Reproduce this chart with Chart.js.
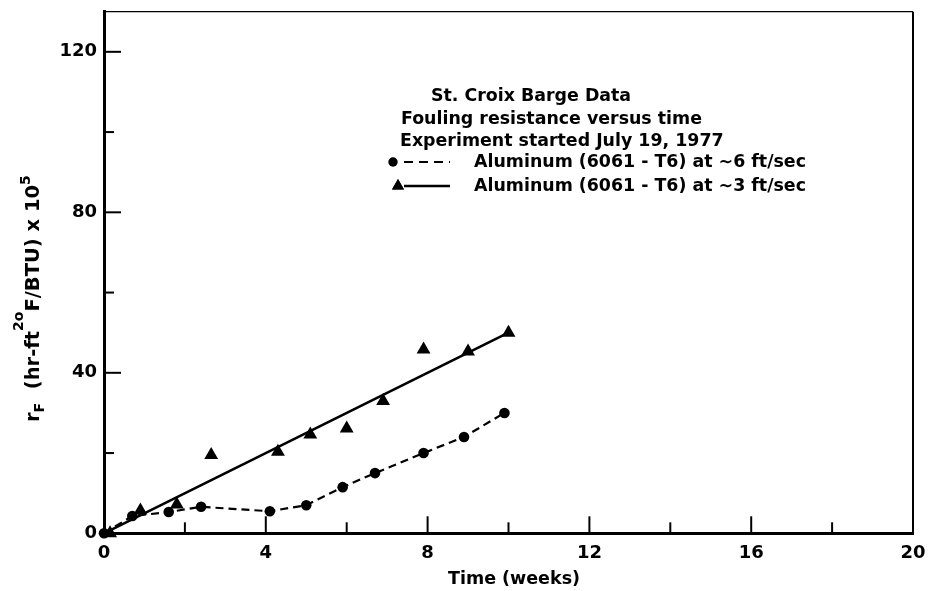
<!DOCTYPE html>
<html>
<head>
<meta charset="utf-8">
<script src="https://cdn.jsdelivr.net/npm/chart.js@4.4.1/dist/chart.umd.min.js"></script>
<style>
  html, body { margin: 0; padding: 0; background: #fff; }
  canvas { display: block; }
</style>
</head>
<body>
<canvas id="chart" width="930" height="591"></canvas>
<script>
// St. Croix barge fouling data, time in weeks, r_F x 10^5
const weeks6 = [0, 0.7, 1.6, 2.4, 4.1, 5.0, 5.9, 6.7, 7.9, 8.9, 9.9];
const rf6 = [0, 4.3, 5.3, 6.6, 5.5, 7.0, 11.5, 15.0, 20.0, 24.0, 30.0];

const weeks3 = [0.15, 0.9, 1.8, 2.65, 4.3, 5.1, 6.0, 6.9, 7.9, 9.0, 10.0];
const rf3 = [0, 5.7, 7.2, 19.5, 20.3, 24.6, 26.1, 33.0, 45.8, 45.3, 50.0];

// straight line drawn through the 3 ft/sec points
const fitWeeks = [0, 10];
const fitRf = [0, 50];

const xTicks = [0, 4, 8, 12, 16, 20];
const yTicks = [0, 40, 80, 120];

const legendLines = [
  'St. Croix Barge Data',
  'Fouling resistance versus time',
  'Experiment started July 19, 1977'
];
const seriesLabels = [
  'Aluminum (6061 - T6) at \u223C6 ft/sec',
  'Aluminum (6061 - T6) at \u223C3 ft/sec'
];

const toPoints = (xs, ys) => xs.map((x, i) => ({ x: x, y: ys[i] }));

Chart.defaults.font.family = "'DejaVu Sans', sans-serif";
Chart.defaults.color = '#000';

const INK = '#000';

// inward tick marks on both axes, plus the thin top/right frame
const frameTicks = {
  id: 'frameTicks',
  afterDraw(chart) {
    const { ctx, chartArea: a, scales } = chart;
    ctx.save();
    ctx.strokeStyle = INK;
    ctx.lineWidth = 2;
    scales.x.ticks.forEach(t => {
      const px = scales.x.getPixelForValue(t.value);
      const len = xTicks.includes(t.value) ? 17 : 11;
      ctx.beginPath();
      ctx.moveTo(px, a.bottom);
      ctx.lineTo(px, a.bottom - len);
      ctx.stroke();
    });
    scales.y.ticks.forEach(t => {
      const py = scales.y.getPixelForValue(t.value);
      const len = yTicks.includes(t.value) ? 17 : 10;
      ctx.beginPath();
      ctx.moveTo(a.left, py);
      ctx.lineTo(a.left + len, py);
      ctx.stroke();
    });
    ctx.lineWidth = 1.3;
    ctx.beginPath();
    ctx.moveTo(a.left, a.top);
    ctx.lineTo(a.right, a.top);
    ctx.stroke();
    ctx.lineWidth = 2;
    ctx.beginPath();
    ctx.moveTo(a.right, a.top);
    ctx.lineTo(a.right, a.bottom);
    ctx.stroke();
    ctx.restore();
  }
};

// axis titles; the y title needs sub- and superscripts
const axisTitles = {
  id: 'axisTitles',
  afterDraw(chart) {
    const { ctx } = chart;
    ctx.save();
    ctx.fillStyle = INK;
    ctx.textBaseline = 'alphabetic';

    ctx.font = "bold 17.5px 'DejaVu Sans'";
    ctx.textAlign = 'center';
    ctx.fillText('Time (weeks)', 514, 584);

    const big = "bold 19.5px 'DejaVu Sans'";
    const small = "bold 14px 'DejaVu Sans'";
    const parts = [
      { t: 'r', f: big, dy: 0 },
      { t: 'F', f: small, dy: 5 },
      { t: '  (hr-ft', f: big, dy: 0 },
      { t: '2', f: small, dy: -16 },
      { t: 'o', f: small, dy: -16 },
      { t: 'F/BTU) x 10', f: big, dy: 0 },
      { t: '5', f: small, dy: -9 }
    ];
    ctx.translate(39, 422);
    ctx.rotate(-Math.PI / 2);
    ctx.textAlign = 'left';
    let x = 0;
    parts.forEach(p => {
      ctx.font = p.f;
      ctx.fillText(p.t, x, p.dy);
      x += ctx.measureText(p.t).width;
    });
    ctx.restore();
  }
};

// legend block drawn with the same styles as the datasets
const legendBlock = {
  id: 'legendBlock',
  afterDraw(chart) {
    const { ctx } = chart;
    const ds = chart.data.datasets;
    ctx.save();
    ctx.fillStyle = INK;
    ctx.strokeStyle = INK;
    ctx.textBaseline = 'middle';
    ctx.textAlign = 'left';
    ctx.font = "bold 17.4px 'DejaVu Sans'";
    ctx.fillText(legendLines[0], 431, 96);
    ctx.fillText(legendLines[1], 401, 119);
    ctx.fillText(legendLines[2], 400, 141);

    // dashed series
    ctx.beginPath();
    ctx.arc(393, 162, ds[0].pointRadius - 0.6, 0, Math.PI * 2);
    ctx.fill();
    ctx.lineWidth = ds[1].borderWidth;
    ctx.setLineDash([9, 6]);
    ctx.beginPath();
    ctx.moveTo(404, 162);
    ctx.lineTo(450, 162);
    ctx.stroke();
    ctx.fillText(seriesLabels[0], 474, 162);

    // solid series
    Chart.helpers.drawPoint(ctx, { pointStyle: 'triangle', radius: ds[2].pointRadius - 1, rotation: 0, borderWidth: 0 }, 398, 186);
    ctx.fill();
    ctx.setLineDash([]);
    ctx.lineWidth = ds[3].borderWidth;
    ctx.beginPath();
    ctx.moveTo(404, 186);
    ctx.lineTo(450, 186);
    ctx.stroke();
    ctx.fillText(seriesLabels[1], 474, 186);
    ctx.restore();
  }
};

new Chart(document.getElementById('chart'), {
  type: 'scatter',
  data: {
    datasets: [
      {
        label: seriesLabels[0],
        data: toPoints(weeks6, rf6),
        pointStyle: 'circle',
        pointRadius: 5.3,
        backgroundColor: INK,
        borderColor: INK,
        borderWidth: 0,
        showLine: false,
        clip: false
      },
      {
        label: seriesLabels[0] + ' line',
        data: toPoints(weeks6, rf6),
        showLine: true,
        pointRadius: 0,
        borderColor: INK,
        borderWidth: 2.2,
        borderDash: [8, 5],
        tension: 0,
        clip: false
      },
      {
        label: seriesLabels[1],
        data: toPoints(weeks3, rf3),
        pointStyle: 'triangle',
        pointRadius: 8,
        backgroundColor: INK,
        borderColor: INK,
        borderWidth: 0,
        showLine: false,
        clip: false
      },
      {
        label: seriesLabels[1] + ' fit',
        data: toPoints(fitWeeks, fitRf),
        showLine: true,
        pointRadius: 0,
        borderColor: INK,
        borderWidth: 2.6,
        clip: false
      }
    ]
  },
  options: {
    responsive: false,
    animation: false,
    events: [],
    layout: { padding: { left: 0, right: 17, top: 11.7, bottom: 0 } },
    plugins: {
      legend: { display: false },
      tooltip: { enabled: false }
    },
    scales: {
      x: {
        type: 'linear',
        min: 0,
        max: 20,
        afterFit(scale) {
          scale.height = 57.7;
          scale.paddingLeft = 0;
          scale.paddingRight = 0;
        },
        border: { display: true, color: INK, width: 3 },
        grid: { display: true, drawOnChartArea: false, drawTicks: false },
        ticks: {
          stepSize: 2,
          autoSkip: false,
          maxRotation: 0,
          padding: 9,
          font: { size: 18, weight: 'bold' },
          callback: v => (xTicks.includes(v) ? String(v) : '')
        }
      },
      y: {
        type: 'linear',
        min: 0,
        max: 130,
        afterFit(scale) {
          scale.width = 104;
          scale.paddingTop = 0;
          scale.paddingBottom = 0;
        },
        border: { display: true, color: INK, width: 3 },
        grid: { display: true, drawOnChartArea: false, drawTicks: false },
        ticks: {
          stepSize: 20,
          includeBounds: false,
          padding: 7,
          font: { size: 18, weight: 'bold' },
          callback: v => (yTicks.includes(v) ? String(v) : '')
        }
      }
    }
  },
  plugins: [frameTicks, axisTitles, legendBlock]
});
</script>
</body>
</html>
